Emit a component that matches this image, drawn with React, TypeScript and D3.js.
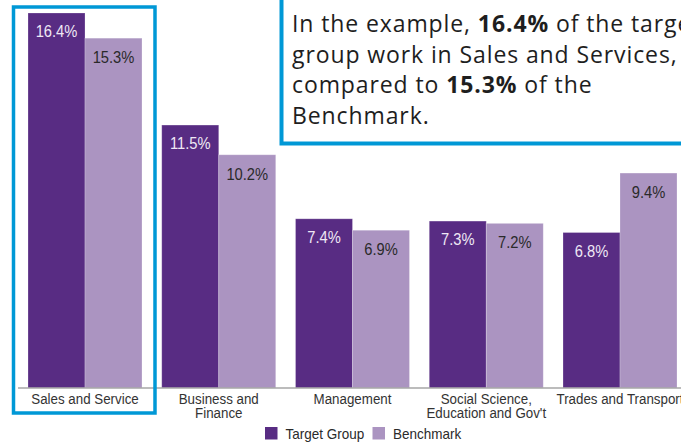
import React from "react";
import * as d3 from "d3";

const categories = [
  "Sales and Service",
  "Business and\nFinance",
  "Management",
  "Social Science,\nEducation and Gov't",
  "Trades and Transport",
];
const targetGroup = [16.4, 11.5, 7.4, 7.3, 6.8];
const benchmark = [15.3, 10.2, 6.9, 7.2, 9.4];
const seriesNames = ["Target Group", "Benchmark"];
const calloutLines: { text: string; bold?: boolean }[][] = [
  [{ text: "In the example, " }, { text: "16.4%", bold: true }, { text: " of the target" }],
  [{ text: "group work in Sales and Services," }],
  [{ text: "compared to " }, { text: "15.3%", bold: true }, { text: " of the" }],
  [{ text: "Benchmark." }],
];

const W = 681;
const H = 442;
const C_TARGET = "#582c83";
const C_BENCH = "#ab94c1";
const C_BLUE = "#0098d6";
const ARIAL = "'Liberation Sans', Arial, sans-serif";

export default function App() {
  const baseY = 388;
  const x = d3
    .scaleBand<string>()
    .domain(categories)
    .range([28, 677])
    .paddingInner(0.1477)
    .paddingOuter(0);
  const sub = d3
    .scaleBand<string>()
    .domain(seriesNames)
    .range([0, x.bandwidth()])
    .padding(0);
  const y = d3.scaleLinear().domain([0, 16.4]).range([baseY, 13]);

  const series = [
    { name: seriesNames[0], values: targetGroup, color: C_TARGET, label: "#efe8f5", dy: 24 },
    { name: seriesNames[1], values: benchmark, color: C_BENCH, label: "#2a2a2a", dy: 25 },
  ];

  const first = categories[0];
  const bx = (x(first) ?? 0) - 14.5;
  const bw = x.bandwidth() + 27.5;

  return (
    <svg
      width={W}
      height={H}
      style={{ position: "absolute", left: 0, top: 0, background: "#fff" }}
    >
      {/* bars */}
      {categories.map((c, i) => (
        <g key={c} transform={`translate(${x(c)},0)`}>
          {series.map((s) => {
            const v = s.values[i];
            const bx0 = sub(s.name) ?? 0;
            const cx = bx0 + sub.bandwidth() / 2;
            return (
              <g key={s.name}>
                <rect
                  x={bx0}
                  y={y(v)}
                  width={sub.bandwidth()}
                  height={baseY - y(v)}
                  fill={s.color}
                  stroke="#ffffff"
                  strokeOpacity={0.3}
                  strokeWidth={0.8}
                />
                <text
                  transform={`translate(${cx},${y(v) + s.dy}) scale(0.92,1)`}
                  textAnchor="middle"
                  fontFamily={ARIAL}
                  fontSize={16}
                  fill={s.label}
                >
                  {v.toFixed(1)}%
                </text>
              </g>
            );
          })}
        </g>
      ))}

      {/* axis line */}
      <line x1={18} x2={W} y1={baseY} y2={baseY} stroke="#a6a6a6" strokeWidth={1.5} />

      {/* category labels */}
      {categories.map((c) => {
        const cx = (x(c) ?? 0) + x.bandwidth() / 2;
        return c.split("\n").map((line, li) => (
          <text
            key={c + li}
            transform={`translate(${cx},${baseY + 16 + li * 14}) scale(0.89,1)`}
            textAnchor="middle"
            fontFamily={ARIAL}
            fontSize={15}
            fill="#333"
          >
            {line}
          </text>
        ));
      })}

      {/* highlight box */}
      <rect x={bx} y={7} width={bw} height={406} fill="none" stroke={C_BLUE} strokeWidth={3.5} />

      {/* legend */}
      {series.map((s, i) => {
        const lx = [265, 372.5][i];
        return (
          <g key={s.name} transform={`translate(${lx},427)`}>
            <rect width={12.5} height={12.5} fill={s.color} />
            <text
              transform={`translate(20.5,12) scale(0.9,1)`}
              fontFamily={ARIAL}
              fontSize={15}
              fill="#2a2a2a"
            >
              {s.name}
            </text>
          </g>
        );
      })}

      {/* callout box */}
      <rect x={281.5} y={-10} width={420} height={153.5} fill="#fff" stroke={C_BLUE} strokeWidth={4} />
      {calloutLines.map((segs, li) => (
        <text
          key={li}
          x={292}
          y={32 + li * 30.5}
          fontFamily="'Open Sans', 'Noto Sans', sans-serif"
          fontSize={23}
          letterSpacing={0.9}
          fill="#1e1e1e"
        >
          {segs.map((s, si) => (
            <tspan key={si} fontWeight={s.bold ? 700 : 400}>
              {s.text}
            </tspan>
          ))}
        </text>
      ))}
    </svg>
  );
}
